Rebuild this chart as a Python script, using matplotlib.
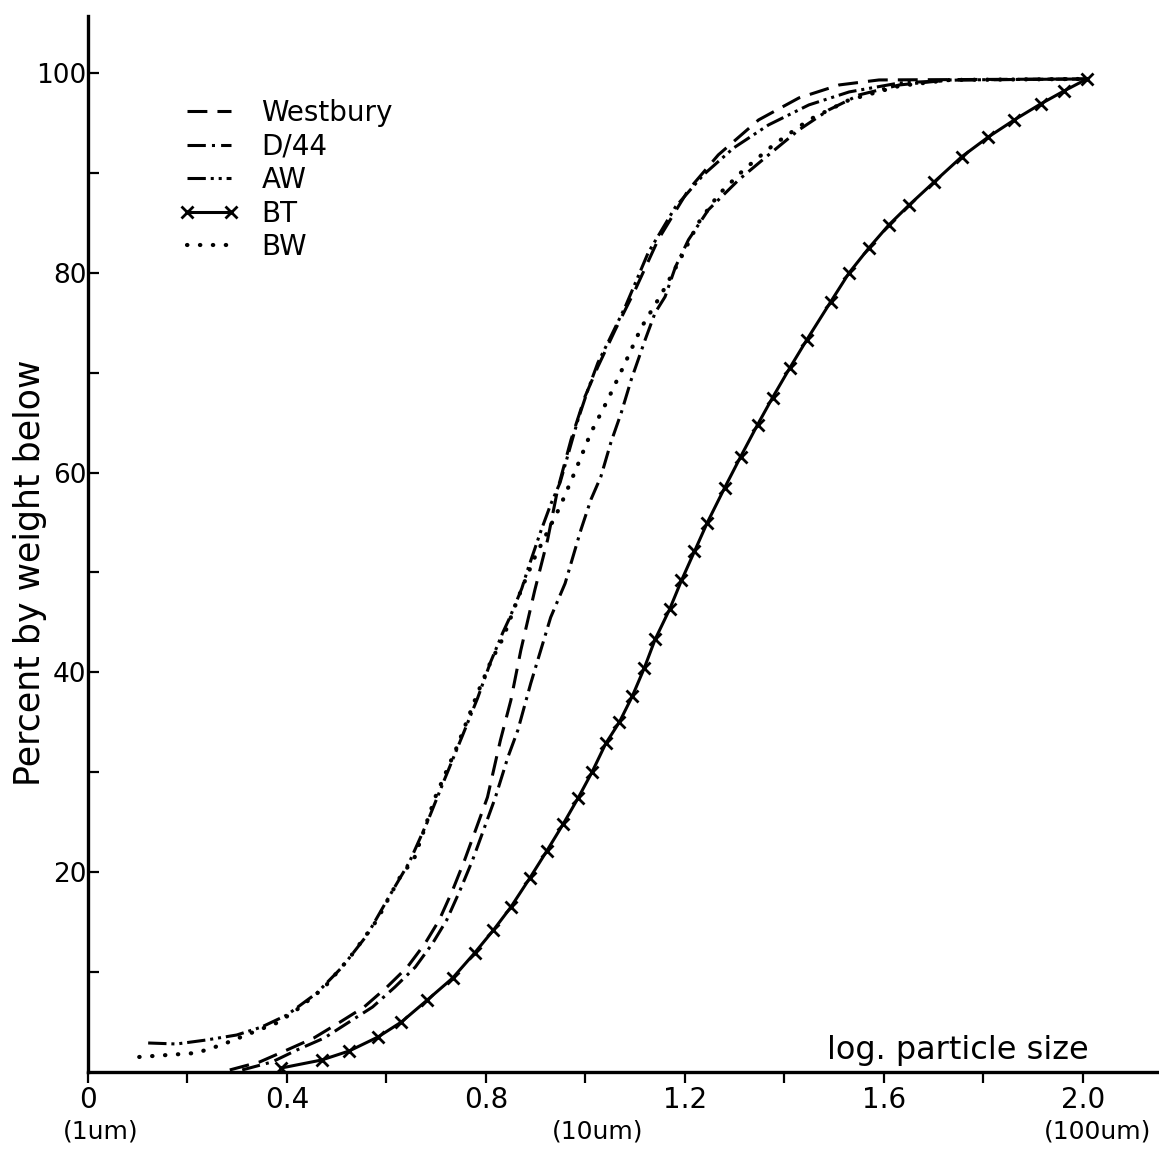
import numpy as np
import matplotlib.pyplot as plt
from matplotlib.ticker import FixedLocator

plt.rcParams['font.family'] = ['DejaVu Sans']

# Westbury (пунктир)
westbury_x = [0.285, 0.345, 0.400, 0.454, 0.507, 0.555, 0.601, 0.642, 0.678, 0.706,
              0.733, 0.757, 0.779, 0.803, 0.829, 0.850, 0.870, 0.898, 0.924, 0.944,
              0.971, 0.999, 1.025, 1.060, 1.100, 1.146, 1.207, 1.267, 1.348, 1.429,
              1.510, 1.590, 2.008]
westbury_y = [0.2, 1.0, 2.2, 3.4, 5.0, 6.5, 8.5, 10.5, 12.9, 15.2,
              18.2, 21.2, 24.2, 27.5, 33.2, 37.2, 42.2, 48.2, 53.3, 58.3,
              63.3, 67.6, 70.6, 74.3, 78.3, 83.3, 88.3, 91.8, 95.3, 97.5,
              98.8, 99.3, 99.4]

# D/44 (штрих-точка)
d44_x = [0.31, 0.37, 0.42, 0.475, 0.525, 0.572, 0.617, 0.658, 0.693, 0.721,
         0.748, 0.773, 0.795, 0.819, 0.844, 0.864, 0.890, 0.910, 0.930, 0.959,
         0.991, 1.011, 1.031, 1.051, 1.072, 1.092, 1.120, 1.140, 1.160, 1.181,
         1.207, 1.247, 1.308, 1.368, 1.429, 1.489, 1.550, 1.631, 1.732, 2.008]
d44_y = [0.2, 1.0, 2.2, 3.4, 5.0, 6.5, 8.5, 10.5, 12.9, 15.2,
         18.2, 21.2, 24.2, 27.5, 31.5, 34.2, 38.9, 42.2, 45.5, 48.9,
         54.3, 57.3, 59.6, 63.0, 66.0, 69.3, 73.3, 76.0, 77.6, 80.6,
         83.3, 86.3, 89.3, 91.8, 94.3, 96.3, 97.8, 98.8, 99.3, 99.4]

# AW (штрих-две точки)
aw_x = [0.121, 0.178, 0.238, 0.299, 0.349, 0.400, 0.460, 0.511, 0.561, 0.607,
        0.646, 0.682, 0.716, 0.753, 0.783, 0.809, 0.834, 0.848, 0.872, 0.884,
        0.910, 0.930, 0.949, 0.965, 0.985, 1.005, 1.025, 1.045, 1.080, 1.126,
        1.181, 1.237, 1.298, 1.368, 1.449, 1.530, 1.631, 1.752, 2.008]
aw_y = [2.9, 2.8, 3.2, 3.7, 4.5, 5.7, 7.9, 10.5, 13.7, 17.7,
        21.0, 25.0, 29.2, 33.7, 37.4, 41.0, 44.0, 45.5, 48.4, 50.3,
        54.1, 56.8, 59.0, 61.8, 65.3, 68.3, 71.0, 73.0, 76.6, 82.0,
        86.6, 89.8, 92.5, 94.8, 96.8, 98.1, 99.0, 99.3, 99.4]

# BT (сплошная с крестиками)
bt_x = [0.389, 0.470, 0.525, 0.583, 0.630, 0.682, 0.733, 0.777, 0.815, 0.850,
        0.888, 0.922, 0.955, 0.985, 1.013, 1.041, 1.068, 1.094, 1.118, 1.140,
        1.169, 1.193, 1.219, 1.245, 1.280, 1.312, 1.346, 1.376, 1.411, 1.445,
        1.493, 1.530, 1.570, 1.610, 1.651, 1.701, 1.756, 1.810, 1.862, 1.915,
        1.962, 2.008]
bt_y = [0.4, 1.2, 2.1, 3.5, 5.0, 7.2, 9.4, 11.9, 14.2, 16.5,
        19.4, 22.1, 24.8, 27.4, 30.0, 32.9, 35.0, 37.6, 40.4, 43.3,
        46.3, 49.2, 52.1, 55.0, 58.5, 61.6, 64.8, 67.5, 70.5, 73.3,
        77.1, 80.0, 82.5, 84.8, 86.8, 89.1, 91.6, 93.6, 95.3, 96.9,
        98.2, 99.4]

# BW (точки)
bw_x = [0.103, 0.218, 0.268, 0.333, 0.379, 0.414, 0.474, 0.527, 0.581, 0.626,
        0.656, 0.672, 0.698, 0.743, 0.783, 0.809, 0.834, 0.872, 0.898, 0.924,
        0.949, 0.979, 1.011, 1.045, 1.080, 1.112, 1.152, 1.193, 1.227, 1.267,
        1.318, 1.378, 1.449, 1.530, 1.631, 1.732, 2.008]
bw_y = [1.5, 1.9, 2.7, 4.0, 4.9, 6.0, 8.4, 11.5, 15.2, 19.4,
        21.4, 23.7, 27.5, 32.7, 37.9, 41.0, 43.4, 48.4, 51.5, 54.1,
        56.6, 60.1, 64.0, 67.3, 71.0, 74.5, 77.8, 81.6, 85.0, 87.8,
        90.3, 92.8, 95.3, 97.3, 98.7, 99.3, 99.4]

x_major = [0, 0.4, 0.8, 1.2, 1.6, 2.0]
x_labels = ['0', '0.4', '0.8', '1.2', '1.6', '2.0']
x_minor = [0.2, 0.6, 1.0, 1.4, 1.8]
units = [(0.025, '(1um)'), (1.025, '(10um)'), (2.03, '(100um)')]

fig = plt.figure(figsize=(11.59, 11.6), dpi=100)
ax = fig.add_axes([0.0759, 0.0759, 0.9229, 0.9103])

lw = 2.2
ax.plot(westbury_x, westbury_y, color='black', lw=lw, dashes=(6.5, 3.3), label='Westbury')
ax.plot(d44_x, d44_y, color='black', lw=lw, dashes=(6, 2, 1, 2), label='D/44')
ax.plot(aw_x, aw_y, color='black', lw=lw, dashes=(6, 1.6, 1, 1.6, 1, 1.6), label='AW')
ax.plot(bt_x, bt_y, color='black', lw=lw, marker='x', ms=9, mew=2, label='BT')
ax.plot(bw_x, bw_y, color='black', lw=3, dashes=(0.1, 3), dash_capstyle='round', label='BW')

ax.set_xlim(0, 2.15)
ax.set_ylim(0, 105.7)

for s in ['top', 'right']:
    ax.spines[s].set_visible(False)
for s in ['left', 'bottom']:
    ax.spines[s].set_linewidth(2.4)

ax.set_xticks(x_major)
ax.set_xticklabels(x_labels)
ax.xaxis.set_minor_locator(FixedLocator(x_minor))
ax.tick_params(axis='x', which='both', direction='out', length=8, width=1.6,
               labelsize=20, pad=2)

ax.set_yticks([20, 40, 60, 80, 100])
ax.yaxis.set_minor_locator(FixedLocator([10, 30, 50, 70, 90]))
ax.tick_params(axis='y', which='both', direction='in', length=8, width=1.6,
               labelsize=19, pad=1)

for xv, t in units:
    ax.text(xv, -0.045, t, transform=ax.get_xaxis_transform(), ha='center', va='top',
            fontsize=18)

ax.text(1.485, 0.6, 'log. particle size', fontsize=23, ha='left', va='bottom')
ax.set_ylabel('Percent by weight below', fontsize=25)
ax.yaxis.set_label_coords(-0.038, 0.473)

ax.legend(loc='upper left', bbox_to_anchor=(0.074, 0.932), frameon=False, fontsize=20,
          handlelength=2.2, handletextpad=0.8, labelspacing=0.2, numpoints=2,
          borderaxespad=0)

plt.savefig('out.png', dpi=100)
